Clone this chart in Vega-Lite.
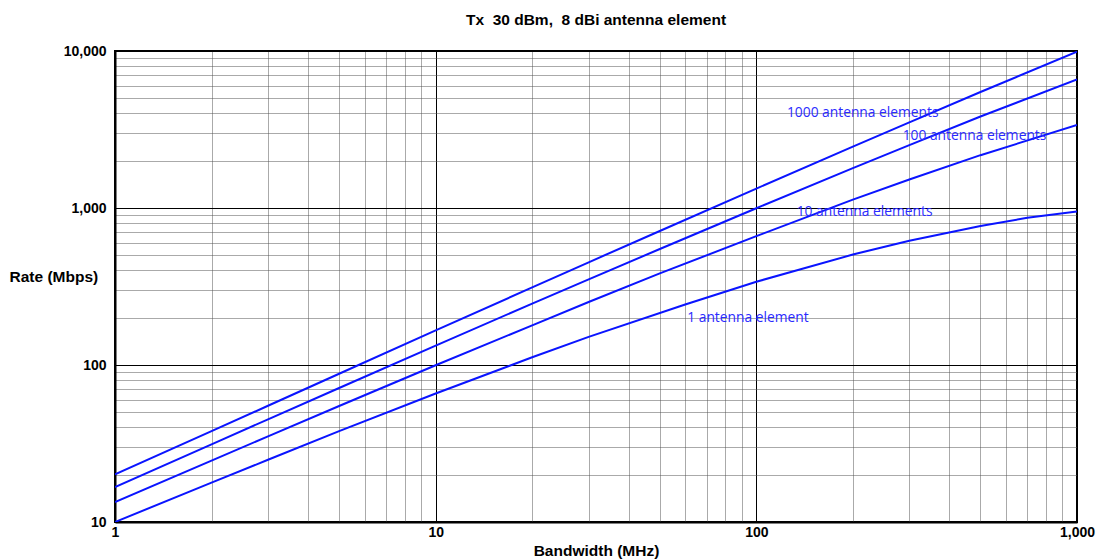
{
  "$schema": "https://vega.github.io/schema/vega-lite/v6.json",
  "autosize": {"type": "none"},
  "width": 962,
  "height": 471,
  "padding": {"left": 115, "top": 51, "right": 22, "bottom": 38},
  "background": "white",
  "title": {
    "text": "Tx\u00a0 30 dBm,\u00a0 8 dBi antenna element",
    "font": "Liberation Sans",
    "fontSize": 15.5,
    "fontWeight": "bold",
    "color": "black",
    "anchor": "middle",
    "offset": 16
  },
  "config": {
    "view": {"stroke": "black", "strokeWidth": 2},
    "axis": {
      "labelFont": "Liberation Sans",
      "labelFontSize": 14,
      "labelFontWeight": "bold",
      "labelColor": "black",
      "titleFont": "Liberation Sans",
      "titleFontSize": 15.5,
      "titleFontWeight": "bold",
      "titleColor": "black",
      "domainColor": "black",
      "domainWidth": 2,
      "tickSize": 0,
      "labelOverlap": false,
      "labelFlush": false
    }
  },
  "datasets": {
    "curves": [
      {"B": 1, "rate": 10, "series": "1"},
      {"B": 2, "rate": 17.8, "series": "1"},
      {"B": 3, "rate": 24.9, "series": "1"},
      {"B": 5, "rate": 37.9, "series": "1"},
      {"B": 10, "rate": 65.8, "series": "1"},
      {"B": 20, "rate": 112, "series": "1"},
      {"B": 30, "rate": 151, "series": "1"},
      {"B": 60, "rate": 243, "series": "1"},
      {"B": 100, "rate": 339, "series": "1"},
      {"B": 200, "rate": 505, "series": "1"},
      {"B": 300, "rate": 618, "series": "1"},
      {"B": 500, "rate": 768, "series": "1"},
      {"B": 700, "rate": 866, "series": "1"},
      {"B": 1000, "rate": 950, "series": "1"},
      {"B": 1, "rate": 13.4, "series": "10"},
      {"B": 2, "rate": 24.6, "series": "10"},
      {"B": 3, "rate": 35.1, "series": "10"},
      {"B": 5, "rate": 54.8, "series": "10"},
      {"B": 10, "rate": 99.7, "series": "10"},
      {"B": 20, "rate": 179, "series": "10"},
      {"B": 30, "rate": 252, "series": "10"},
      {"B": 50, "rate": 383, "series": "10"},
      {"B": 100, "rate": 662, "series": "10"},
      {"B": 200, "rate": 1130, "series": "10"},
      {"B": 300, "rate": 1520, "series": "10"},
      {"B": 500, "rate": 2170, "series": "10"},
      {"B": 1000, "rate": 3380, "series": "10"},
      {"B": 1, "rate": 16.7, "series": "100"},
      {"B": 2, "rate": 31.2, "series": "100"},
      {"B": 3, "rate": 45.1, "series": "100"},
      {"B": 5, "rate": 71.4, "series": "100"},
      {"B": 10, "rate": 133, "series": "100"},
      {"B": 20, "rate": 246, "series": "100"},
      {"B": 30, "rate": 351, "series": "100"},
      {"B": 50, "rate": 548, "series": "100"},
      {"B": 100, "rate": 997, "series": "100"},
      {"B": 200, "rate": 1794, "series": "100"},
      {"B": 300, "rate": 2515, "series": "100"},
      {"B": 500, "rate": 3825, "series": "100"},
      {"B": 1000, "rate": 6600, "series": "100"},
      {"B": 1, "rate": 20.1, "series": "1000"},
      {"B": 2, "rate": 37.9, "series": "1000"},
      {"B": 3, "rate": 55.0, "series": "1000"},
      {"B": 5, "rate": 88.0, "series": "1000"},
      {"B": 10, "rate": 166, "series": "1000"},
      {"B": 20, "rate": 312, "series": "1000"},
      {"B": 30, "rate": 451, "series": "1000"},
      {"B": 50, "rate": 714, "series": "1000"},
      {"B": 100, "rate": 1329, "series": "1000"},
      {"B": 200, "rate": 2458, "series": "1000"},
      {"B": 300, "rate": 3511, "series": "1000"},
      {"B": 500, "rate": 5483, "series": "1000"},
      {"B": 1000, "rate": 9900, "series": "1000"}
    ],
    "labels": [
      {"B": 124.6, "rate": 4045, "text": "1000 antenna elements"},
      {"B": 286, "rate": 2877, "text": "100 antenna elements"},
      {"B": 133.6, "rate": 944, "text": "10 antenna elements"},
      {"B": 60.9, "rate": 198, "text": "1 antenna element"}
    ]
  },
  "layer": [
    {
      "data": {"name": "curves"},
      "mark": {"type": "line", "color": "#0a14ff", "strokeWidth": 2, "clip": true},
      "encoding": {
        "x": {
          "field": "B",
          "type": "quantitative",
          "scale": {"type": "log", "domain": [1, 1000], "nice": false},
          "axis": {
            "title": "Bandwidth (MHz)",
            "titlePadding": 4,
            "labelPadding": 3,
            "values": [1, 2, 3, 4, 5, 6, 7, 8, 9, 10, 20, 30, 40, 50, 60, 70, 80, 90, 100, 200, 300, 400, 500, 600, 700, 800, 900, 1000],
            "labelExpr": "indexof([1, 10, 100, 1000], datum.value) >= 0 ? format(datum.value, ',') : ''",
            "grid": true,
            "gridColor": {"condition": {"test": "indexof([1, 10, 100, 1000], datum.value) >= 0", "value": "#000000"}, "value": "#555555"},
            "gridDash": {"condition": {"test": "indexof([1, 10, 100, 1000], datum.value) >= 0", "value": []}, "value": [1, 1]},
            "gridWidth": 1
          }
        },
        "y": {
          "field": "rate",
          "type": "quantitative",
          "scale": {"type": "log", "domain": [10, 10000], "nice": false},
          "axis": {
            "title": "Rate (Mbps)",
            "titleAngle": 0,
            "titleAlign": "left",
            "titleBaseline": "middle",
            "titleX": -106,
            "titleY": 225,
            "labelPadding": 9,
            "values": [10, 20, 30, 40, 50, 60, 70, 80, 90, 100, 200, 300, 400, 500, 600, 700, 800, 900, 1000, 2000, 3000, 4000, 5000, 6000, 7000, 8000, 9000, 10000],
            "labelExpr": "indexof([10, 100, 1000, 10000], datum.value) >= 0 ? format(datum.value, ',') : ''",
            "grid": true,
            "gridColor": {"condition": {"test": "indexof([10, 100, 1000, 10000], datum.value) >= 0", "value": "#000000"}, "value": "#555555"},
            "gridDash": {"condition": {"test": "indexof([10, 100, 1000, 10000], datum.value) >= 0", "value": []}, "value": [1, 1]},
            "gridWidth": 1
          }
        },
        "detail": {"field": "series", "type": "nominal"}
      }
    },
    {
      "data": {"name": "labels"},
      "mark": {"type": "text", "font": "Open Sans", "fontSize": 13.8, "color": "#2a2aff", "align": "left", "baseline": "middle"},
      "encoding": {
        "x": {"field": "B", "type": "quantitative"},
        "y": {"field": "rate", "type": "quantitative"},
        "text": {"field": "text", "type": "nominal"}
      }
    }
  ]
}
